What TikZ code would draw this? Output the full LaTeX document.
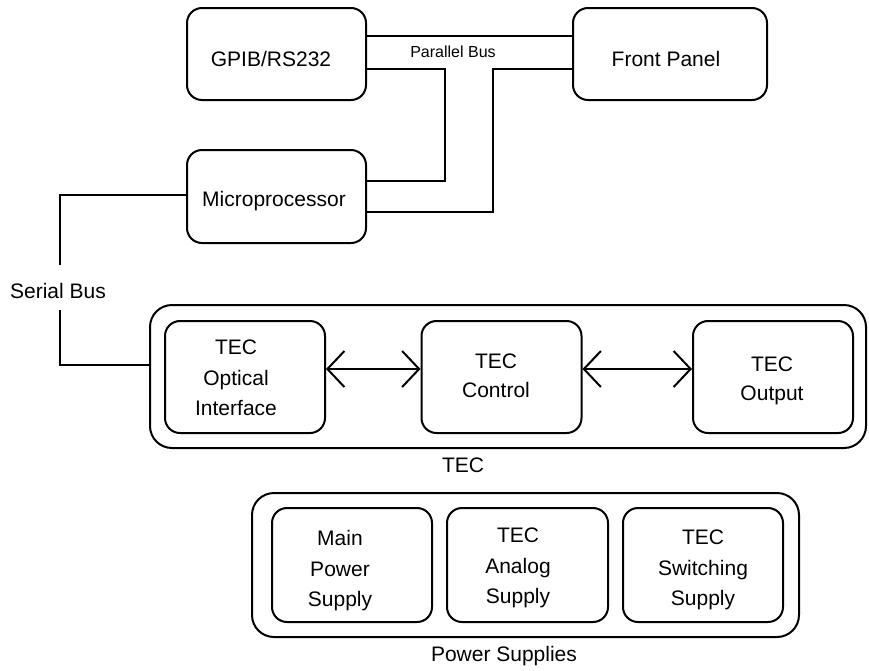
\documentclass[tikz,border=0pt]{standalone}
\usepackage{fontspec}
\setmainfont{Liberation Sans}
\usetikzlibrary{arrows.meta}
\begin{document}
\begin{tikzpicture}[x=1pt,y=-1pt,
  box/.style={draw, line width=2pt, rounded corners=15pt, inner sep=0pt},
  bigbox/.style={draw, line width=2pt, rounded corners=22pt, inner sep=0pt},
  txt/.style={inner sep=0pt, align=center, font=\fontsize{21}{25}\selectfont},
  txtm/.style={inner sep=0pt, align=center, font=\fontsize{21}{28.5}\selectfont},
  txtw/.style={inner sep=0pt, align=center, font=\fontsize{21}{30.5}\selectfont},
  small/.style={inner sep=0pt, font=\fontsize{16}{19}\selectfont},
  wire/.style={line width=2pt},
  biarrow/.style={line width=2pt, {Straight Barb[length=17pt,width=36pt,line width=2pt]}-{Straight Barb[length=17pt,width=36pt,line width=2pt]}}
]
\useasboundingbox (0,0) rectangle (869,670);
% top boxes
\node[box, minimum width=179pt, minimum height=92pt] (gpib) at (276.5,54) {};
\node[txt] (gpibt) at (271,59) {GPIB/RS232};
\node[box, minimum width=194pt, minimum height=92pt] (front) at (670,54) {};
\node[txt] (frontt) at (666,59) {Front Panel};
\node[box, minimum width=179pt, minimum height=93pt] (micro) at (276.5,196.5) {};
\node[txt] (microt) at (274,201) {Microprocessor};
% parallel bus
\node[small] (pbus) at (453,52) {Parallel Bus};
\coordinate (c1) at (445,120);
\coordinate (c2) at (493,120);
\draw[wire] ([yshift=18pt]gpib.east) -- ([yshift=18pt]front.west);
\draw[wire] ([yshift=-15pt]gpib.east) -| (c1) |- ([yshift=15.5pt]micro.east);
\draw[wire] ([yshift=-15pt]front.west) -| (c2) |- ([yshift=-15.5pt]micro.east);
% TEC group
\node[bigbox, minimum width=716pt, minimum height=143pt] (tec) at (508,376.5) {};
\node[txt] (tecl) at (463,465) {TEC};
\node[box, minimum width=160pt, minimum height=112pt] (opt) at (245,377) {};
\node[txtw] (optt) at (236,378) {TEC\\Optical\\Interface};
\node[box, minimum width=160pt, minimum height=112pt] (ctl) at (501.5,377) {};
\node[txtm] (ctlt) at (496,376) {TEC\\Control};
\node[box, minimum width=160pt, minimum height=112pt] (out) at (773,377) {};
\node[txtm] (outt) at (772,381) {TEC\\Output};
\draw[biarrow] ([yshift=8pt]opt.east) -- ([yshift=8pt]ctl.west);
\draw[biarrow] ([yshift=8pt]ctl.east) -- ([yshift=8pt]out.west);
% serial bus
\node[txt] (serial) at (58,291) {Serial Bus};
\coordinate (s1) at (60,265);
\coordinate (s2) at (60,310);
\draw[wire] ([yshift=1.5pt]micro.west) -| (s1);
\draw[wire] (s2) |- ([yshift=11.5pt]tec.west);
% power supplies
\node[bigbox, minimum width=547pt, minimum height=144pt] (ps) at (525.5,565) {};
\node[txt] (psl) at (504,656) {Power Supplies};
\node[box, minimum width=160pt, minimum height=114pt] (mps) at (352,565) {};
\node[txtw] (mpst) at (340,571) {Main\\Power\\Supply};
\node[box, minimum width=161pt, minimum height=114pt] (aps) at (527.5,565) {};
\node[txtw] (apst) at (518,568) {TEC\\Analog\\Supply};
\node[box, minimum width=160pt, minimum height=114pt] (sps) at (703,565) {};
\node[txtw] (spst) at (703,570) {TEC\\Switching\\Supply};
\end{tikzpicture}
\end{document}
